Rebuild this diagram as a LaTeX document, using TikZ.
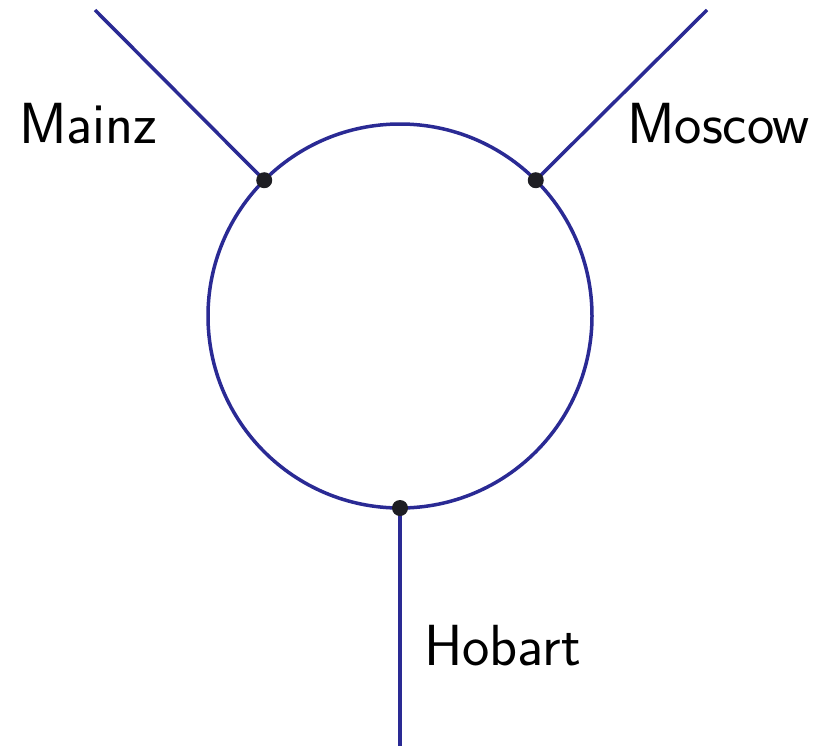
\documentclass[tikz,border=0pt]{standalone}
\usetikzlibrary{calc}
\begin{document}
\begin{tikzpicture}[x=1pt,y=-1pt,
  wire/.style={draw={rgb,255:red,42;green,42;blue,148},line width=3.5pt},
  junction/.style={circle,fill={rgb,255:red,30;green,30;blue,35},inner sep=0pt,minimum size=16pt},
  city/.style={anchor=base west,inner sep=0pt,font=\sffamily\fontsize{58}{70}\selectfont}]
\useasboundingbox (0,0) rectangle (819,747);
\coordinate (c) at (400,316);
\coordinate (em) at (95,10);
\coordinate (eo) at (707,10);
\coordinate (eh) at (400,746);
\draw[wire] (c) circle[radius=192];
\coordinate (pm) at ($(c)+(-135:192)$);
\coordinate (po) at ($(c)+(-45:192)$);
\coordinate (ph) at ($(c)+(90:192)$);
\draw[wire] (pm) -- (em);
\draw[wire] (po) -- (eo);
\draw[wire] (ph) -- (eh);
\node[junction] (jm) at (pm) {};
\node[junction] (jo) at (po) {};
\node[junction] (jh) at (ph) {};
\node[city] (mainz) at (19,143) {Mainz};
\node[city] (moscow) at (627,143) {Moscow};
\node[city] (hobart) at (424,665) {Hobart};
\end{tikzpicture}
\end{document}
